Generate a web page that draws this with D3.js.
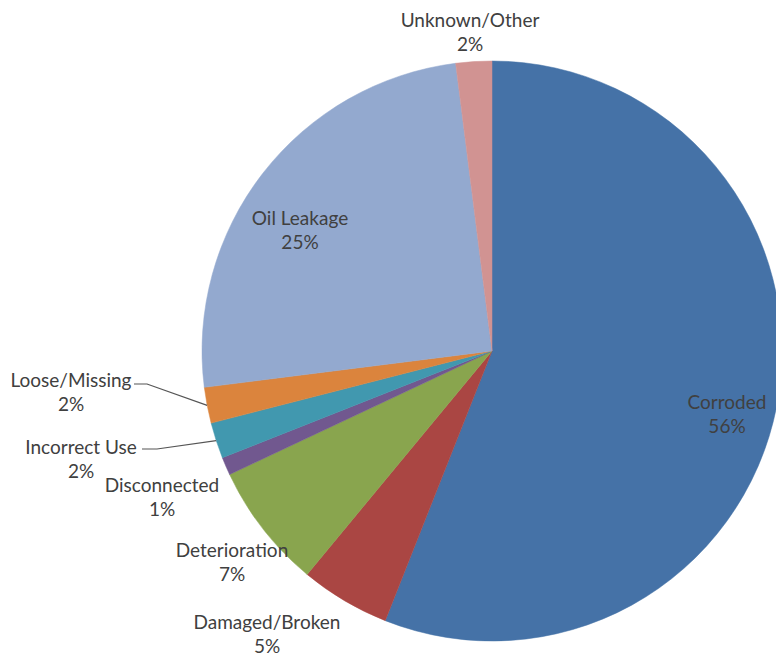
<!DOCTYPE html>
<html>
<head>
<meta charset="utf-8">
<script src="https://cdn.jsdelivr.net/npm/d3@7"></script>
<style>
  html, body { margin: 0; padding: 0; background: #fff; overflow: hidden; }
  text { font-family: Lato, "Open Sans", sans-serif; fill: #404040; }
</style>
</head>
<body>
<div id="chart"></div>
<script>
var categories = ["Corroded", "Damaged/Broken", "Deterioration", "Disconnected",
                  "Incorrect Use", "Loose/Missing", "Oil Leakage", "Unknown/Other"];
var values = [56, 5, 7, 1, 2, 2, 25, 2];
var colors = ["#4572A7", "#AA4643", "#89A54E", "#71588F",
              "#4198AF", "#DB843D", "#93A9CF", "#D19392"];

// where excel put the labels (text centre, first baseline)
var labelPos = [[727, 409], [267, 629], [232, 557], [162, 492],
                [81, 454], [71, 387], [300, 225], [470, 27]];
// leader lines only for the two small slices on the left
var leaders = {4: [157, 449, 142], 5: [147, 384, 134]};

var width = 776, height = 657;
var cx = 492, cy = 351, r = 290;

var svg = d3.select("#chart").append("svg")
    .attr("width", width)
    .attr("height", height);

var pie = d3.pie().sort(null).value(function(d) { return d; });
var arcs = pie(values);
var arc = d3.arc().innerRadius(0).outerRadius(r);

var g = svg.append("g").attr("transform", "translate(" + cx + "," + cy + ")");

g.selectAll("path")
    .data(arcs)
    .enter().append("path")
    .attr("d", arc)
    .attr("fill", function(d, i) { return colors[i]; })
    .attr("stroke", function(d, i) { return colors[i]; })
    .attr("stroke-width", 0.5);

// leader lines
Object.keys(leaders).forEach(function(k) {
  var a = arcs[k];
  var mid = (a.startAngle + a.endAngle) / 2;
  var ex = cx + r * Math.sin(mid), ey = cy - r * Math.cos(mid);
  var l = leaders[k];
  svg.append("polyline")
      .attr("points", [[l[2], l[1]], [l[0], l[1]], [ex, ey]].map(String).join(" "))
      .attr("fill", "none")
      .attr("stroke", "#555")
      .attr("stroke-width", 1.2);
});

var labels = svg.selectAll("g.label")
    .data(arcs)
    .enter().append("text")
    .attr("class", "label")
    .attr("text-anchor", "middle")
    .attr("font-size", 19);

labels.append("tspan")
    .attr("x", function(d, i) { return labelPos[i][0]; })
    .attr("y", function(d, i) { return labelPos[i][1]; })
    .text(function(d, i) { return categories[i]; });

labels.append("tspan")
    .attr("x", function(d, i) { return labelPos[i][0]; })
    .attr("y", function(d, i) { return labelPos[i][1] + 24; })
    .text(function(d, i) { return values[i] + "%"; });
</script>
</body>
</html>
